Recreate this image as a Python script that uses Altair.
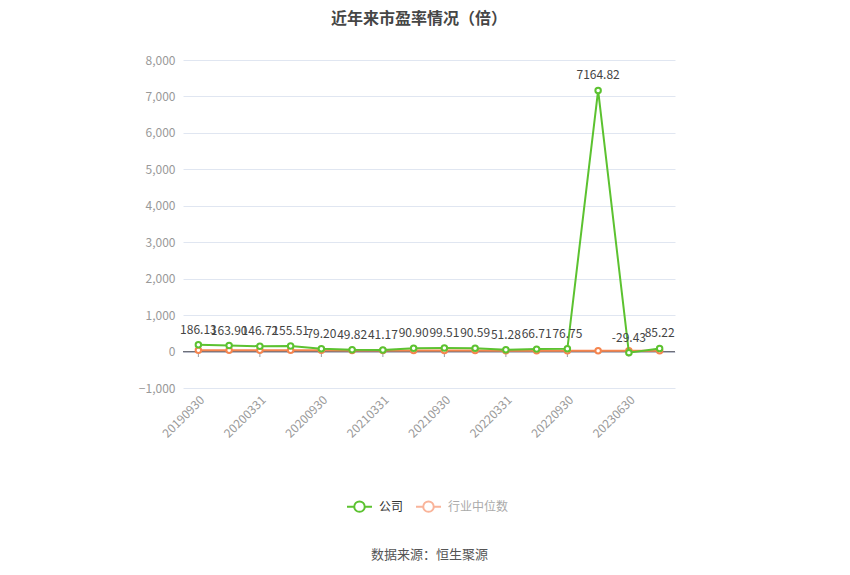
import altair as alt
import pandas as pd

dates = ["20190930", "20191231", "20200331", "20200630", "20200930", "20201231",
         "20210331", "20210630", "20210930", "20211231", "20220331", "20220630",
         "20220930", "20221231", "20230630", "20230930"]
company = [186.13, 163.90, 146.72, 155.51, 79.20, 49.82, 41.17, 90.90, 99.51,
           90.59, 51.28, 66.71, 76.75, 7164.82, -29.43, 85.22]
industry = [38, 36, 35, 37, 33, 30, 28, 32, 30, 28, 25, 24, 22, 21, 23, 24]
tick_dates = dates[::2]
y_ticks = [-1000, 0, 1000, 2000, 3000, 4000, 5000, 6000, 7000, 8000]
series_names = ["公司", "行业中位数"]

GREEN = "#5cc230"
ORANGE = "#f5854f"
LEGEND_COLORS = [GREEN, "#f9b49a"]
AXIS_GREY = "#6e7079"

df = pd.DataFrame({
    "date": dates * 2,
    "value": company + industry,
    "series": [series_names[0]] * len(dates) + [series_names[1]] * len(dates),
})
df["label"] = [f"{v:.2f}" for v in df["value"]]
ticks_df = pd.DataFrame({"date": tick_dates})

x_scale = alt.Scale(type="point", padding=0.5, domain=dates)
x_axis = alt.Axis(
    values=tick_dates, labelAngle=-45, labelColor="#999999", labelFontSize=12,
    labelFont="Noto Sans CJK SC", domain=False, ticks=False, grid=False,
    labelPadding=6, labelOverlap=False,
    title="数据来源：恒生聚源", titleY=166, titleBaseline="middle",
    titleFontWeight="normal", titleFontSize=13, titleColor="#555555",
    titleFont="Noto Sans CJK SC",
)
x_enc = alt.X("date:O", sort=dates, scale=x_scale, axis=x_axis)

y_scale = alt.Scale(domain=[-1000, 8000], nice=False, zero=False)
y_axis = alt.Axis(
    values=y_ticks, format=",.0f", labelColor="#999999", labelOverlap=False,
    labelFontSize=12, labelFont="Noto Sans CJK SC", domain=False, ticks=False,
    gridColor="#e0e6f1", title=None, labelPadding=8,
)
y_enc = alt.Y("value:Q", scale=y_scale, axis=y_axis)
y_zero = alt.Y(datum=0, scale=y_scale, axis=y_axis)

base = alt.Chart(df)

legend_layer = base.mark_point(opacity=0).encode(
    x=x_enc, y=y_enc,
    color=alt.Color(
        "series:N",
        scale=alt.Scale(domain=series_names, range=LEGEND_COLORS),
        legend=alt.Legend(
            title=None, orient="none", direction="horizontal", legendX=163, legendY=433,
            symbolType="M-1,0L-0.42,0M0.42,0L1,0M-0.42,0A0.42,0.42,0,1,1,0.42,0A0.42,0.42,0,1,1,-0.42,0Z",
            symbolSize=625, symbolStrokeWidth=2, symbolFillColor="white", symbolOpacity=1,
            labelFont="Noto Sans CJK SC", labelFontSize=12,
            labelColor=alt.ExprRef("datum.value === '公司' ? '#333333' : '#aaaaaa'"),
            columnPadding=8, labelOffset=6,
        ),
    ),
)

zero_rule = alt.Chart(ticks_df).mark_rule(color=AXIS_GREY, strokeWidth=1).encode(y=y_zero)
zero_ticks = alt.Chart(ticks_df).mark_tick(
    color=AXIS_GREY, orient="vertical", size=5, thickness=1, yOffset=3
).encode(x=x_enc, y=y_zero)

def series_layers(name, color):
    sub = base.transform_filter(alt.datum.series == name)
    line = sub.mark_line(strokeWidth=2, color=color).encode(x=x_enc, y=y_enc)
    pts = sub.mark_point(filled=True, fill="white", stroke=color, strokeWidth=2,
                         size=30, opacity=1).encode(x=x_enc, y=y_enc)
    return [line, pts]

text_layer = base.transform_filter(alt.datum.series == "公司").mark_text(
    dy=-15, fontSize=12, color="#444444", font="Noto Sans CJK SC", baseline="middle"
).encode(x=x_enc, y=y_enc, text="label:N")

chart = alt.layer(
    legend_layer,
    zero_rule,
    zero_ticks,
    *series_layers("行业中位数", ORANGE),
    *series_layers("公司", GREEN),
    text_layer,
).properties(
    width=492, height=328,
    title=alt.TitleParams(
        "近年来市盈率情况（倍）", fontSize=16, fontWeight="bold", color="#464646",
        font="Noto Sans CJK SC", anchor="middle", offset=27, dx=-10,
    ),
    autosize=alt.AutoSizeParams(type="none"),
    padding={"left": 175, "top": 52, "right": 167, "bottom": 179},
).configure_view(stroke=None)

chart.save("out.html", embed_options={"renderer": "svg", "actions": False})
